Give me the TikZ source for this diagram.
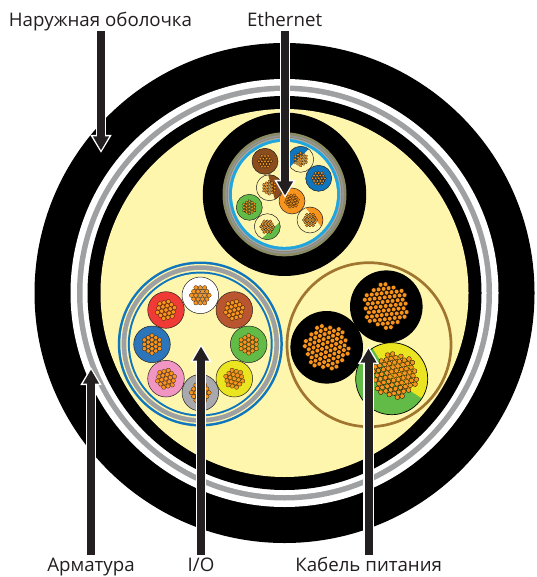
\documentclass[tikz,border=0pt]{standalone}
\usepackage{fontspec}
\setmainfont{Open Sans}
\usetikzlibrary{arrows.meta,calc}
\definecolor{cream}{HTML}{FFF6AE}
\definecolor{ringgrey}{HTML}{939598}
\definecolor{inkdark}{HTML}{231F20}
\definecolor{strandor}{HTML}{F7941E}
\definecolor{cblue}{HTML}{0F75BC}
\definecolor{skyblue}{HTML}{1FA6DE}
\definecolor{olive}{HTML}{8A8A63}
\definecolor{ebrown}{HTML}{8B4D1E}
\definecolor{ibrown}{HTML}{B9552F}
\definecolor{cgreen}{HTML}{62BB46}
\definecolor{cyellow}{HTML}{EBE521}
\definecolor{cred}{HTML}{EF3A36}
\definecolor{cpink}{HTML}{F195C2}
\definecolor{cgrey}{HTML}{A7A9AC}
\definecolor{iblue}{HTML}{2B75BB}
\definecolor{pbrown}{HTML}{A0752F}
\tikzset{
  lbl/.style={text=inkdark,font=\fontsize{18.7}{22}\selectfont,inner sep=0pt,anchor=base},
  strandA/.style={fill=strandor,draw=black,line width=0.2pt},
  wireline/.style={draw=inkdark,line width=0.5pt}
}
% hexagonal bundle: x y spacing rotation
\newcommand\hexbundle[4]{%
  \begin{scope}[shift={(#1,-#2)},rotate=#4]
    \foreach \i in {-2,...,2}\foreach \j in {-2,...,2}{%
      \pgfmathtruncatemacro\kk{abs(\i+\j)}%
      \ifnum\kk<3
        \path[strandA] ({\i*#3+\j*#3*0.5},{\j*#3*0.866}) circle[radius=#3*0.49];
      \fi}%
  \end{scope}}
% round bundle: x y spacing rotation max distance
\newcommand\roundbundle[5]{%
  \begin{scope}[shift={(#1,-#2)},rotate=#4]
    \foreach \i in {-6,...,6}\foreach \j in {-6,...,6}{%
      \pgfmathsetmacro\px{\i*#3+\j*#3*0.5}%
      \pgfmathsetmacro\py{\j*#3*0.866}%
      \pgfmathtruncatemacro\inr{(\px*\px+\py*\py)<(#5*#5)?1:0}%
      \ifnum\inr=1
        \pgfmathsetmacro\jx{\px+0.12*rand}%
        \pgfmathsetmacro\jy{\py+0.12*rand}%
        \path[fill=strandor,draw=black,line width=0.3pt] (\jx,\jy) circle[radius=#3*0.47];
      \fi}%
  \end{scope}}
% full wire: x y r colour spacing rot
\newcommand\wire[6]{%
  \path[wireline,fill=#4] (#1,-#2) circle[radius=#3];
  \hexbundle{#1}{#2}{#5}{#6}}
% part-coloured wire: x y r colour a b spacing rot
\newcommand\halfwire[8]{%
  \path[fill=cream] (#1,-#2) circle[radius=#3];
  \path[fill=#4] ([shift={(#5:#3)}]#1,-#2) arc[start angle=#5,end angle=#6,radius=#3] -- cycle;
  \path[wireline] (#1,-#2) circle[radius=#3];
  \hexbundle{#1}{#2}{#7}{#8}}
% block arrow: tail coordinate, tip coordinate
\newcommand\blockarrow[2]{%
  \draw[white,line width=10.5pt,-{Triangle[width=20pt,length=18pt]}] (#1) -- (#2);
  \draw[inkdark,line width=8pt,-{Triangle[width=15pt,length=14pt]}] (#1) -- ($(#2)!2.5pt!(#1)$);}
\begin{document}
\begin{tikzpicture}[x=1pt,y=1pt]
\pgfmathsetseed{4242}
\useasboundingbox (0,0) rectangle (536,-577);
\fill[white] (0,0) rectangle (536,-577);
% main cable
\coordinate (C) at (284.5,-293);
\fill[black] (C) circle[radius=250];
\fill[white] (C) circle[radius=214];
\fill[ringgrey!90!white] (C) circle[radius=207.5];
\fill[white] (C) circle[radius=202];
\fill[black] (C) circle[radius=197];
\fill[cream] (C) circle[radius=184];
% Ethernet
\coordinate (E) at (284.5,-194.3);
\fill[black] (E) circle[radius=81.7];
\fill[olive] (E) circle[radius=62];
\fill[ringgrey] (E) circle[radius=59.3];
\fill[olive] (E) circle[radius=57.6];
\fill[cgrey] (E) circle[radius=56.8];
\fill[skyblue] (E) circle[radius=55.5];
\fill[cream] (E) circle[radius=52.5];
\wire{265}{161.3}{13}{ebrown}{3.1}{0}
\halfwire{300.7}{159.3}{13}{cblue}{52}{215}{3.1}{30}
\wire{318.7}{178.3}{13}{cblue}{3.1}{0}
\halfwire{269.3}{187.7}{13}{ebrown}{95}{-65}{3.1}{30}
\wire{292}{201}{13}{strandor}{3.1}{10}
\halfwire{310}{220}{13}{strandor}{110}{-30}{3.1}{0}
\wire{249.3}{207.3}{13}{cgreen}{3.1}{30}
\halfwire{267.3}{226.7}{13}{cgreen}{20}{-115}{3.1}{0}
% I/O
\coordinate (I) at (200.3,-344);
\fill[cblue] (I) circle[radius=82.5];
\fill[cream] (I) circle[radius=80];
\fill[ringgrey!90!white] (I) circle[radius=78.7];
\fill[cream] (I) circle[radius=74];
\fill[cblue] (I) circle[radius=72.4];
\fill[cream] (I) circle[radius=70.4];
\wire{200.3}{295.3}{18.3}{white}{4.4}{0}
\wire{166}{310}{18.3}{cred}{4.4}{15}
\wire{234.3}{310}{18.3}{ibrown}{4.4}{15}
\wire{152}{344.3}{18.3}{iblue}{4.4}{30}
\wire{248.7}{344.3}{18.3}{cgreen}{4.4}{30}
\wire{166}{378.7}{18.3}{cpink}{4.4}{15}
\wire{234.3}{378.7}{18.3}{cyellow}{4.4}{-15}
\wire{200.3}{392.7}{18.3}{cgrey}{4.4}{0}
% power
\coordinate (P) at (369,-344.7);
\draw[pbrown,line width=2.7pt] (P) circle[radius=82];
\path[fill=cgreen] (391.7,-378.7) circle[radius=36];
\path[fill=cyellow] (391.7,-378.7) -- ++(122:36) arc[start angle=122,end angle=-33,radius=36] -- cycle;
\draw[black,line width=0.7pt] (391.7,-378.7) circle[radius=36];
\fill[black] (386.3,-306.7) circle[radius=36.3];
\fill[black] (326.7,-347.3) circle[radius=36.3];
\roundbundle{385.7}{306}{5}{7}{22}
\roundbundle{326.7}{347.3}{5}{20}{22}
\roundbundle{395}{375.5}{5}{13}{22}
% labels
\node[lbl] (outer) at (100.5,-26.7) {Наружная оболочка};
\node[lbl] (eth) at (284.6,-26.7) {Ethernet};
\node[lbl] (arm) at (91,-571.5) {Арматура};
\node[lbl] (io) at (201,-571.5) {I/O};
\node[lbl] (pow) at (368.7,-571.5) {Кабель питания};
% arrows
\coordinate (a1) at (101,-31);  \coordinate (t1) at (101,-153);
\coordinate (a2) at (285,-31);  \coordinate (t2) at (285,-198);
\coordinate (a3) at (91,-555);  \coordinate (t3) at (91,-367);
\coordinate (a4) at (201,-555); \coordinate (t4) at (201,-344);
\coordinate (a5) at (368.5,-555); \coordinate (t5) at (368.5,-346);
\blockarrow{a1}{t1}
\blockarrow{a2}{t2}
\blockarrow{a3}{t3}
\blockarrow{a4}{t4}
\blockarrow{a5}{t5}
\end{tikzpicture}
\end{document}
